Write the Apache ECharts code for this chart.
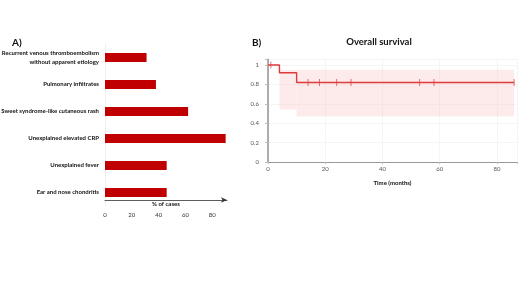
<!DOCTYPE html>
<html>
<head>
<meta charset="utf-8">
<script src="https://cdn.jsdelivr.net/npm/echarts@6/dist/echarts.min.js"></script>
<style>
  html, body { margin: 0; padding: 0; background: #fff; }
  #chart { width: 520px; height: 292px; }
</style>
</head>
<body>
<div id="chart"></div>
<script>
// panel A - manifestations (% of cases), bottom to top
const manifestations = ['Ear and nose chondritis', 'Unexplained fever', 'Unexplained elevated CRP',
  'Sweet syndrome-like cutaneous rash', 'Pulmonary infiltrates',
  'Recurrent venous thromboembolism\nwithout apparent etiology']
const pctCases = [46, 46, 90, 62, 38, 31]

// panel B - Kaplan-Meier overall survival
const kmSteps = [[0, 1], [4, 0.92], [10, 0.82], [86, 0.82]]
const censored = [[1, 1], [14, 0.82], [18, 0.82], [24, 0.82], [29, 0.82], [53, 0.82], [58, 0.82], [86, 0.82]]
// [from, to, lower, upper]
const ciBand = [[4, 10, 0.54, 0.95], [10, 86, 0.47, 0.95]]

const font = 'Lato, "Open Sans", sans-serif'
const chart = echarts.init(document.getElementById('chart'))

const option = {
  animation: false,
  textStyle: { fontFamily: font },
  title: [
    { text: 'A)', left: 7, top: 33, textStyle: { fontSize: 10, fontWeight: 'bold', color: '#111' } },
    { text: 'B)', left: 247, top: 33, textStyle: { fontSize: 10, fontWeight: 'bold', color: '#111' } },
    { text: 'Overall survival', left: 374, top: 32, textAlign: 'center',
      textStyle: { fontSize: 9.5, fontWeight: 'bold', color: '#111' } },
  ],
  grid: [
    { left: 105, top: 44, width: 122, height: 162, outerBoundsMode: 'none' },
    { left: 268, top: 59.2, width: 249, height: 102.8, outerBoundsMode: 'none' },
  ],
  xAxis: [
    {
      gridIndex: 0, type: 'value', min: 0, max: 91, interval: 20,
      offset: -6,
      axisLine: { show: true, symbol: ['none', 'arrow'], symbolSize: [4, 6], lineStyle: { color: '#333', width: 0.8 } },
      axisTick: { show: false },
      splitLine: { show: false },
      axisLabel: { fontSize: 6, color: '#333', margin: 12,
        formatter: v => (v % 20 === 0 ? v : '') },
      name: '% of cases', nameLocation: 'middle', nameGap: 1.5, nameMoveOverlap: false,
      nameTextStyle: { fontSize: 6, fontWeight: 'bold', color: '#111' },
    },
    {
      gridIndex: 1, type: 'value', min: 0, max: 87, interval: 20,
      axisLine: { show: true, lineStyle: { color: '#999', width: 1 } },
      axisTick: { show: true, length: 2, lineStyle: { color: '#bbb' } },
      splitLine: { show: true, lineStyle: { color: '#eee', width: 0.6 } },
      axisLabel: { fontSize: 6, color: '#555', margin: 4,
        formatter: v => (v % 20 === 0 ? v : '') },
      name: 'Time (months)', nameLocation: 'middle', nameGap: 18, nameMoveOverlap: false,
      nameTextStyle: { fontSize: 6, fontWeight: 'bold', color: '#111' },
    },
  ],
  yAxis: [
    {
      gridIndex: 0, type: 'category', data: manifestations,
      axisLine: { show: true, lineStyle: { color: '#f0f0f0' } },
      axisTick: { show: false },
      axisLabel: { fontSize: 6, fontWeight: 'bold', color: '#111', margin: 6, lineHeight: 9 },
    },
    {
      gridIndex: 1, type: 'value', min: 0, max: 1.06, interval: 0.2,
      axisLine: { show: true, lineStyle: { color: '#999', width: 1.6 } },
      axisTick: { show: true, length: 3, lineStyle: { color: '#bbb' } },
      splitLine: { show: true, lineStyle: { color: '#eee', width: 0.6 } },
      axisLabel: { fontSize: 6, color: '#555', margin: 9,
        formatter: v => (Math.abs(v * 5 - Math.round(v * 5)) < 1e-6 ? +v.toFixed(1) : '') },
    },
  ],
  series: [
    {
      type: 'bar', xAxisIndex: 0, yAxisIndex: 0, data: pctCases,
      barWidth: 9, itemStyle: { color: '#c00000' },
    },
    {
      type: 'custom', xAxisIndex: 1, yAxisIndex: 1, data: ciBand,
      encode: { x: [0, 1], y: [2, 3] }, z: 1,
      renderItem: function (params, api) {
        const p0 = api.coord([api.value(0), api.value(3)])
        const p1 = api.coord([api.value(1), api.value(2)])
        return {
          type: 'rect',
          shape: { x: p0[0], y: p0[1], width: p1[0] - p0[0], height: p1[1] - p0[1] },
          style: { fill: 'rgba(248, 190, 190, 0.3)' },
        }
      },
    },
    {
      type: 'line', xAxisIndex: 1, yAxisIndex: 1, data: kmSteps, step: 'end',
      symbol: 'none', z: 3, lineStyle: { color: '#dd3b3b', width: 1.4 },
    },
    {
      type: 'scatter', xAxisIndex: 1, yAxisIndex: 1, data: censored,
      symbol: 'rect', symbolSize: [0.9, 7], z: 4, itemStyle: { color: '#dd3b3b' },
    },
  ],
}
chart.setOption(option)
</script>
</body>
</html>
